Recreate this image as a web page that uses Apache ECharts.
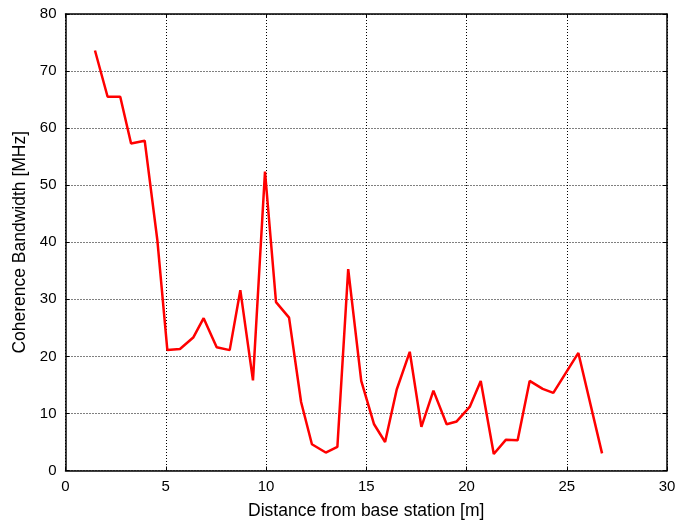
<!DOCTYPE html>
<html><head><meta charset="utf-8">
<script src="https://cdn.jsdelivr.net/npm/echarts@6/dist/echarts.min.js"></script>
<style>html,body{margin:0;padding:0;background:#fff}#c{width:692px;height:523px}</style>
</head><body><div id="c"></div>
<script>
const distance = [1.47, 2.1, 2.73, 3.27, 3.95, 4.58, 5.08, 5.71, 6.37, 6.89, 7.54, 8.19, 8.72, 9.35, 9.95, 10.5, 11.15, 11.75, 12.29, 12.98, 13.56, 14.1, 14.75, 15.39, 15.94, 16.52, 17.17, 17.75, 18.35, 19.01, 19.51, 20.17, 20.71, 21.36, 21.97, 22.55, 23.15, 23.8, 24.33, 25.58, 26.76];
const bandwidth = [73.6, 65.5, 65.5, 57.3, 57.8, 40.4, 21.1, 21.3, 23.3, 26.7, 21.6, 21.1, 31.6, 15.8, 52.4, 29.5, 26.8, 12.0, 4.6, 3.15, 4.15, 35.3, 15.7, 8.1, 5.0, 14.2, 20.8, 7.65, 14.0, 8.1, 8.6, 11.2, 15.7, 2.9, 5.4, 5.3, 15.7, 14.3, 13.6, 20.6, 3.0];
const xTitle = 'Distance from base station [m]';
const yTitle = 'Coherence Bandwidth [MHz]';

const chart = echarts.init(document.getElementById('c'), null, {renderer: 'canvas'});
const font = 'Liberation Sans';
const axisLine = {show: true, onZero: false, lineStyle: {color: '#000', width: 1.5}};
const tick = {show: true, inside: true, length: 4, lineStyle: {color: '#000', width: 1}};
const grid = {show: true, lineStyle: {color: '#000', type: [1, 2], width: 1}};
chart.setOption({
  animation: false,
  grid: {left: 65.5, right: 25, top: 14, bottom: 52.5, containLabel: false, outerBoundsMode: 'none'},
  xAxis: [{
    type: 'value', min: 0, max: 30, interval: 5, position: 'bottom',
    name: xTitle, nameLocation: 'middle', nameGap: 32,
    nameTextStyle: {fontFamily: font, fontSize: 17.5, color: '#000'},
    axisLine, axisTick: tick, splitLine: grid,
    axisLabel: {fontFamily: font, fontSize: 15, color: '#000', margin: 9}
  }, {
    type: 'value', min: 0, max: 30, interval: 5, position: 'top',
    axisLine, axisTick: tick, splitLine: {show: false}, axisLabel: {show: false}
  }],
  yAxis: [{
    type: 'value', min: 0, max: 80, interval: 10, position: 'left',
    name: yTitle, nameLocation: 'middle', nameGap: 33,
    nameTextStyle: {fontFamily: font, fontSize: 17.5, color: '#000'},
    axisLine, axisTick: tick, splitLine: grid,
    axisLabel: {fontFamily: font, fontSize: 15, color: '#000', margin: 9}
  }, {
    type: 'value', min: 0, max: 80, interval: 10, position: 'right',
    axisLine, axisTick: tick, splitLine: {show: false}, axisLabel: {show: false}
  }],
  series: [{
    type: 'line',
    data: distance.map((d, i) => [d, bandwidth[i]]),
    showSymbol: false, symbol: 'none',
    lineStyle: {color: '#ff0000', width: 2.5},
    itemStyle: {color: '#ff0000'}
  }]
});
</script></body></html>
